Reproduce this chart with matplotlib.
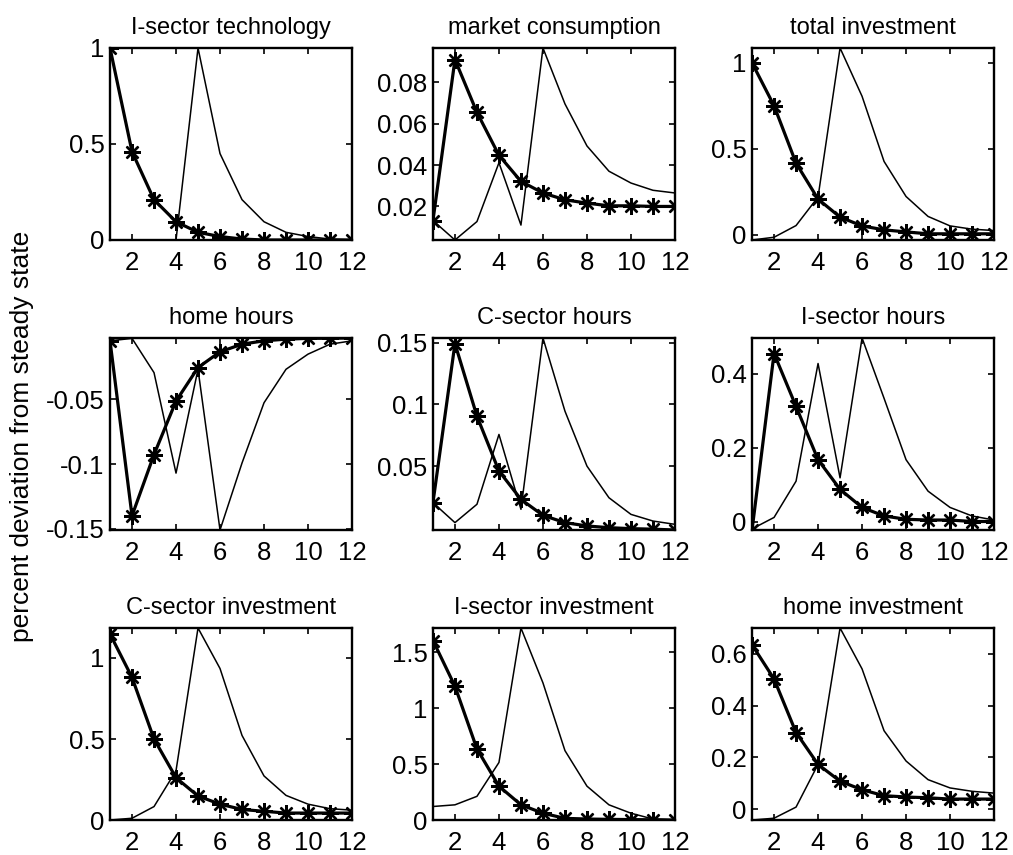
import matplotlib
matplotlib.use('Agg')
import matplotlib.pyplot as plt
from matplotlib.ticker import FormatStrFormatter

plt.rcParams['font.family'] = ['Liberation Sans', 'DejaVu Sans']

periods = list(range(1, 13))

titles = ['I-sector technology', 'market consumption', 'total investment',
          'home hours', 'C-sector hours', 'I-sector hours',
          'C-sector investment', 'I-sector investment', 'home investment']

# thick line with asterisks
star_tech = [1.0, 0.46, 0.21, 0.095, 0.04, 0.018, 0.005, 0.0, 0.0, 0.0, 0.0, 0.0]
star_cons = [0.0132, 0.0909, 0.0654, 0.0447, 0.0321, 0.0265, 0.0232, 0.0216, 0.0203, 0.0203, 0.020, 0.020]
star_tinv = [1.0, 0.751, 0.417, 0.208, 0.103, 0.052, 0.029, 0.017, 0.006, 0.006, 0.006, 0.006]
star_hhome = [-0.0047, -0.140, -0.0927, -0.0513, -0.0254, -0.0132, -0.0073, -0.0047, -0.0034, -0.0028, -0.0027, -0.0025]
star_hc = [0.0203, 0.1495, 0.0905, 0.046, 0.023, 0.010, 0.0041, 0.0014, 0.0, -0.0008, -0.0012, -0.0019]
star_hi = [-0.023, 0.454, 0.311, 0.167, 0.087, 0.038, 0.015, 0.006, 0.004, 0.004, 0.0, 0.0]
star_cinv = [1.148, 0.880, 0.50, 0.261, 0.148, 0.098, 0.065, 0.054, 0.043, 0.043, 0.043, 0.043]
star_iinv = [1.606, 1.197, 0.636, 0.303, 0.136, 0.061, 0.015, 0.009, 0.006, 0.004, 0.002, 0.0]
star_hinv = [0.635, 0.503, 0.296, 0.173, 0.108, 0.075, 0.052, 0.047, 0.044, 0.039, 0.039, 0.039]

# thin line
thin_tech = [0.0, 0.0, 0.0, 0.0, 1.0, 0.45, 0.21, 0.095, 0.04, 0.018, 0.005, 0.0]
thin_cons = [0.0132, 0.0038, 0.0127, 0.0411, 0.011, 0.0965, 0.0695, 0.0492, 0.0370, 0.0313, 0.0278, 0.0265]
thin_tinv = [-0.03, -0.014, 0.054, 0.22, 1.087, 0.806, 0.427, 0.223, 0.107, 0.052, 0.033, 0.025]
thin_hhome = [-0.0047, -0.0028, -0.0293, -0.107, -0.0267, -0.151, -0.0992, -0.0526, -0.0267, -0.015, -0.0073, -0.0047]
thin_hc = [0.0203, 0.0041, 0.019, 0.0757, 0.0149, 0.154, 0.0946, 0.050, 0.0243, 0.0108, 0.0054, 0.0027]
thin_hi = [-0.02, 0.011, 0.109, 0.427, 0.118, 0.496, 0.333, 0.167, 0.082, 0.038, 0.015, 0.004]
thin_cinv = [0.0, 0.011, 0.083, 0.304, 1.185, 0.935, 0.522, 0.272, 0.152, 0.098, 0.07, 0.061]
thin_iinv = [0.121, 0.136, 0.212, 0.515, 1.718, 1.227, 0.621, 0.303, 0.136, 0.061, 0.009, 0.0]
thin_hinv = [-0.042, -0.035, 0.008, 0.173, 0.70, 0.542, 0.303, 0.186, 0.114, 0.082, 0.069, 0.062]

star_series = [star_tech, star_cons, star_tinv, star_hhome, star_hc, star_hi, star_cinv, star_iinv, star_hinv]
thin_series = [thin_tech, thin_cons, thin_tinv, thin_hhome, thin_hc, thin_hi, thin_cinv, thin_iinv, thin_hinv]

yticks = [[0, 0.5, 1], [0.02, 0.04, 0.06, 0.08], [0, 0.5, 1],
          [-0.15, -0.1, -0.05], [0.05, 0.1, 0.15], [0, 0.2, 0.4],
          [0, 0.5, 1], [0, 0.5, 1, 1.5], [0, 0.2, 0.4, 0.6]]
xticks = [2, 4, 6, 8, 10, 12]

fig = plt.figure(figsize=(10.13, 8.55), dpi=100)

lefts = [0.1086, 0.4274, 0.7424]
bottoms = [0.7193, 0.3801, 0.0409]
w, h = 0.2389, 0.2246

for i in range(9):
    r, c = divmod(i, 3)
    ax = fig.add_axes([lefts[c], bottoms[r], w, h])
    ax.plot(periods, thin_series[i], color='black', lw=1.1)
    ax.plot(periods, star_series[i], color='black', lw=2.3,
            marker=(8, 2, 0), markersize=12, markeredgewidth=1.7)
    lo = min(min(thin_series[i]), min(star_series[i]))
    hi = max(max(thin_series[i]), max(star_series[i]))
    ax.set_xlim(1, 12)
    ax.set_ylim(lo, hi)
    ax.set_xticks(xticks)
    ax.set_yticks(yticks[i])
    ax.yaxis.set_major_formatter(FormatStrFormatter('%g'))
    ax.tick_params(direction='in', top=True, right=True, length=4, width=1.2,
                   labelsize=18.5)
    ax.tick_params(axis='x', pad=8)
    ax.tick_params(axis='y', pad=4)
    for s in ax.spines.values():
        s.set_linewidth(1.7)
    ax.set_title(titles[i], fontsize=17, pad=10)

fig.text(0.022, 0.49, 'percent deviation from steady state', rotation=90,
         fontsize=19, ha='center', va='center')

fig.savefig('out.png', dpi=100)
